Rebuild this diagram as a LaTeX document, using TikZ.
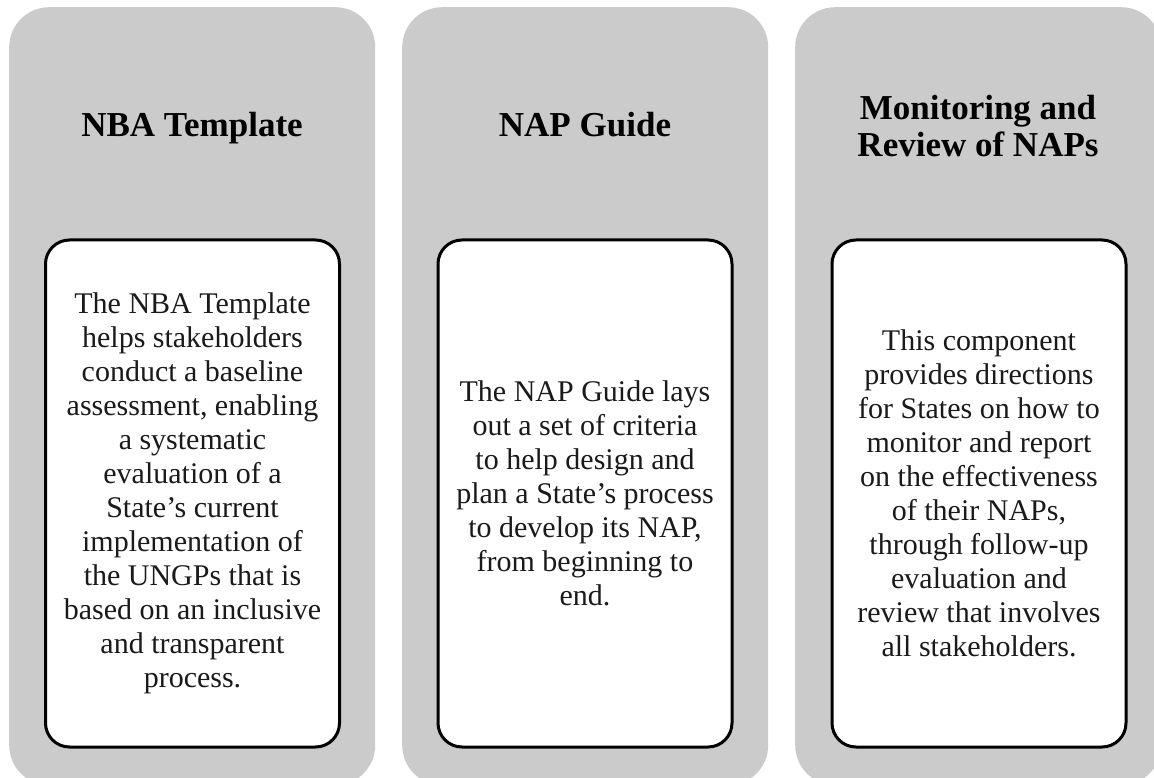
\documentclass[tikz,border=0pt]{standalone}
\usepackage{fontspec}
\setmainfont{Liberation Serif}
\definecolor{panelgray}{HTML}{CBCBCB}
\definecolor{bodytext}{HTML}{1A1A1A}
\tikzset{
  panel/.style={fill=panelgray, draw=none, rounded corners=40pt, minimum width=366pt, minimum height=778pt, inner sep=0pt, anchor=north west},
  card/.style={fill=white, draw=black, line width=3pt, rounded corners=24pt, minimum width=294pt, minimum height=507pt, inner sep=0pt, align=center, text=bodytext, font=\fontsize{30}{34}\selectfont},
  ptitle/.style={font=\fontsize{35}{37}\selectfont\bfseries, align=center, text=black, inner sep=0pt},
}
\begin{document}
\begin{tikzpicture}[x=1pt,y=-1pt]
\useasboundingbox (0,0) rectangle (1154,778);
\fill[white] (0,0) rectangle (1154,778);
\node[panel] (p1) at (9,7) {};
\node[panel] (p2) at (402,7) {};
\node[panel] (p3) at (795,7) {};
\node[ptitle, anchor=base] (t1) at (192,137) {NBA Template};
\node[ptitle, anchor=base] (t2) at (585,137) {NAP Guide};
\node[ptitle] (t3) at (978,126) {Monitoring and\\Review of NAPs};
\node[card] (c1) at (192.5,493.5) {The NBA Template\\helps stakeholders\\conduct a baseline\\assessment, enabling\\a systematic\\evaluation of a\\State’s current\\implementation of\\the UNGPs that is\\based on an inclusive\\and transparent\\process.};
\node[card] (c2) at (585,493.5) {The NAP Guide lays\\out a set of criteria\\to help design and\\plan a State’s process\\to develop its NAP,\\from beginning to\\end.};
\node[card] (c3) at (979,493.5) {This component\\provides directions\\for States on how to\\monitor and report\\on the effectiveness\\of their NAPs,\\through follow-up\\evaluation and\\review that involves\\all stakeholders.};
\end{tikzpicture}
\end{document}
